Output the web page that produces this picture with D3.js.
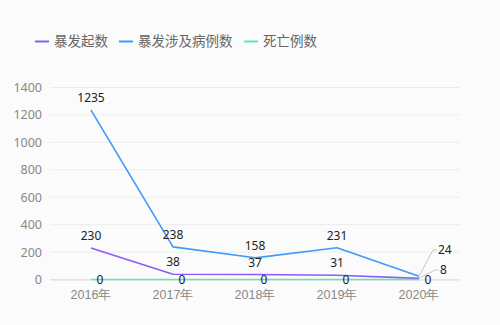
<!DOCTYPE html>
<html><head><meta charset="utf-8">
<script src="https://cdn.jsdelivr.net/npm/d3@7/dist/d3.min.js"></script>
<style>
html,body{margin:0;padding:0;background:#fbfbfb;}
svg{display:block;font-family:"Noto Sans CJK SC","Noto Sans",sans-serif;}
</style></head>
<body><svg id="c" width="500" height="325"></svg>
<script>
const categories = ["2016年","2017年","2018年","2019年","2020年"];
const seriesNames = ["暴发起数","暴发涉及病例数","死亡例数"];
const outbreaks = [230, 38, 37, 31, 8];
const cases = [1235, 238, 158, 231, 24];
const deaths = [0, 0, 0, 0, 0];
const yTicks = [0, 200, 400, 600, 800, 1000, 1200, 1400];

const colors = ["#8b5cf6", "#3d9bfb", "#5ee6b3"];
const seriesData = [outbreaks, cases, deaths];

const svg = d3.select("#c");
const x = d3.scaleBand().domain(categories).range([50, 460]);
const y = d3.scaleLinear().domain([0, 1400]).range([279.5, 87.5]);

// grid
svg.append("g").selectAll("line").data(yTicks).join("line")
  .attr("x1", 50).attr("x2", 460)
  .attr("y1", d => y(d)).attr("y2", d => y(d))
  .attr("stroke", "#ececec").attr("stroke-width", 1);

// y axis labels
const yAxis = d3.axisLeft(y).tickValues(yTicks).tickFormat(d3.format("d")).tickSize(0).tickPadding(8);
const gy = svg.append("g").attr("transform", "translate(50,0)").call(yAxis);
gy.select(".domain").remove();
gy.selectAll("text").attr("fill", "#888").style("font-size", "12.5px")
  .style("font-family", "'Noto Sans','Noto Sans CJK SC',sans-serif");

// x axis
const xAxis = d3.axisBottom(x).tickSize(0).tickPadding(11);
const gx = svg.append("g").attr("transform", "translate(0,279.5)").call(xAxis);
gx.select(".domain").attr("stroke", "#ddd");
gx.selectAll("text").attr("fill", "#888").style("font-size", "12.5px");

const cx = c => x(c) + x.bandwidth() / 2;

// lines
const line = d3.line().x((d, i) => cx(categories[i])).y(d => y(d));
seriesData.forEach((s, k) => {
  svg.append("path").datum(s).attr("d", line)
    .attr("fill", "none").attr("stroke", colors[k]).attr("stroke-width", 1.6)
    .attr("stroke-linejoin", "round");
});

// labels
const lab = svg.append("g").style("font-size", "12px").attr("fill", "#222")
  .style("font-family", "'Noto Sans','Noto Sans CJK SC',sans-serif");
const last = categories.length - 1;
[1, 0].forEach(k => {
  seriesData[k].forEach((v, i) => {
    const px = cx(categories[i]), py = y(v);
    if (i === last) {
      // leader-line labels on the right
      const ly = k === 1 ? 250 : 270;
      const lx = k === 1 ? 433 : 435;
      svg.append("polyline")
        .attr("points", `${px},${py} ${lx},${ly} ${lx + 4},${ly}`)
        .attr("fill", "none").attr("stroke", "#c8c8c8").attr("stroke-width", 1);
      lab.append("text").attr("x", lx + 5).attr("y", ly).attr("dy", "0.35em")
        .attr("text-anchor", "start").text(v);
    } else {
      lab.append("text").attr("x", px).attr("y", py - 12).attr("dy", "0.35em")
        .attr("text-anchor", "middle").text(v);
    }
  });
});
deaths.forEach((v, i) => {
  lab.append("text").attr("x", cx(categories[i]) + 9).attr("y", y(v)).attr("dy", "0.35em")
    .attr("text-anchor", "middle").text(v);
});

// legend
const leg = svg.append("g");
const legX = [35, 119, 244];
seriesNames.forEach((n, k) => {
  leg.append("line").attr("x1", legX[k]).attr("x2", legX[k] + 14)
    .attr("y1", 41.5).attr("y2", 41.5).attr("stroke", colors[k]).attr("stroke-width", 2);
  leg.append("text").attr("x", legX[k] + 19).attr("y", 41.5).attr("dy", "0.35em")
    .attr("fill", "#666").style("font-size", "13.5px").text(n);
});
</script></body></html>
